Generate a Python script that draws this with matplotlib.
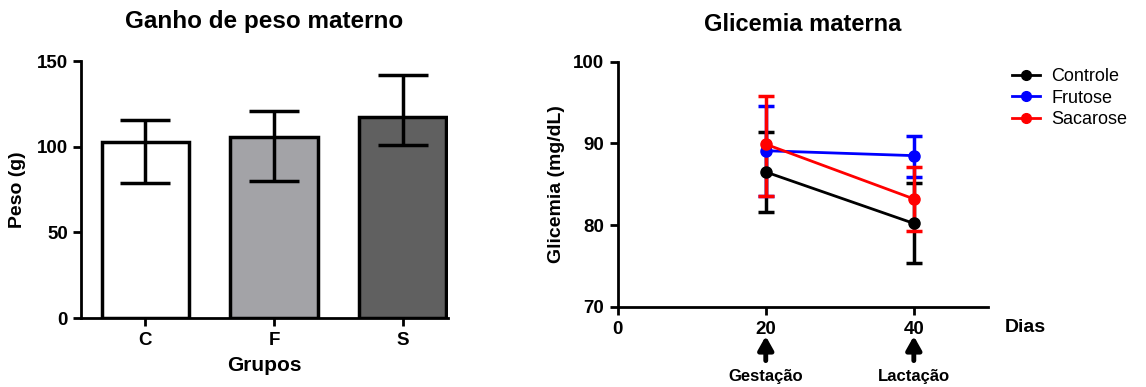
import matplotlib.pyplot as plt
from matplotlib.lines import Line2D
import numpy as np

plt.rcParams['font.family'] = ['Liberation Sans', 'DejaVu Sans']
plt.rcParams['font.weight'] = 'bold'

# ganho de peso
grupos = ['C', 'F', 'S']
peso = [103, 105.7, 117.5]
peso_sup = [115.6, 121, 142]
peso_inf = [79, 80.2, 101]
cores_barra = ['white', '#A3A3A7', '#606060']

# glicemia
dias = [20, 40]
series = ['Controle', 'Frutose', 'Sacarose']
glic = {
  'Controle': [86.5, 80.2],
  'Frutose': [89.1, 88.5],
  'Sacarose': [89.9, 83.2],
}
glic_sup = {
  'Controle': [91.4, 85.1],
  'Frutose': [94.6, 90.9],
  'Sacarose': [95.8, 87.1],
}
glic_inf = {
  'Controle': [81.6, 75.4],
  'Frutose': [83.5, 85.9],
  'Sacarose': [83.6, 79.3],
}
cores = {'Controle': 'black', 'Frutose': '#0000FF', 'Sacarose': '#FF0000'}
fases = ['Gestação', 'Lactação']

fig = plt.figure(figsize=(11.46, 3.87), dpi=100)

# ---- painel esquerdo
ax1 = fig.add_axes([0.0707, 0.178, 0.320, 0.664])
x = np.arange(len(grupos))
p = np.array(peso)
err = [p - np.array(peso_inf), np.array(peso_sup) - p]
ax1.bar(x, peso, width=0.68, color=cores_barra, edgecolor='black', linewidth=2.5, zorder=2)
ax1.errorbar(x, peso, yerr=err, fmt='none', ecolor='black', elinewidth=2.5,
             capsize=18, capthick=2.5, zorder=3)
ax1.set_xlim(-0.5, 2.35)
ax1.set_ylim(0, 150)
ax1.set_yticks([0, 50, 100, 150])
ax1.set_xticks(x)
ax1.set_xticklabels(grupos)
ax1.spines['top'].set_visible(False)
ax1.spines['right'].set_visible(False)
for s in ['left', 'bottom']:
  ax1.spines[s].set_linewidth(2)
ax1.tick_params(width=2, length=6, labelsize=13.5)
ax1.tick_params(axis='x', pad=4)
ax1.set_ylabel('Peso (g)', fontsize=14, fontweight='bold', labelpad=8)
ax1.set_xlabel('Grupos', fontsize=15, fontweight='bold', labelpad=5)
ax1.set_title('Ganho de peso materno', fontsize=17.5, fontweight='bold', pad=24)

# ---- painel direito
ax2 = fig.add_axes([0.539, 0.2075, 0.323, 0.633])
for nome in series:
  m = np.array(glic[nome])
  e = [m - np.array(glic_inf[nome]), np.array(glic_sup[nome]) - m]
  ax2.errorbar(dias, m, yerr=e, color=cores[nome], marker='o', markersize=8,
               linewidth=2, elinewidth=2.5, capsize=6, capthick=2.5, label=nome)
ax2.set_xlim(0, 50)
ax2.set_ylim(70, 100)
ax2.set_xticks([0, 20, 40])
ax2.set_yticks([70, 80, 90, 100])
ax2.spines['top'].set_visible(False)
ax2.spines['right'].set_visible(False)
for s in ['left', 'bottom']:
  ax2.spines[s].set_linewidth(2)
ax2.tick_params(width=2, length=6, labelsize=13.5)
ax2.tick_params(axis='x', pad=4)
ax2.set_ylabel('Glicemia (mg/dL)', fontsize=14, fontweight='bold', labelpad=6)
ax2.set_title('Glicemia materna', fontsize=17, fontweight='bold', pad=22)
ax2.text(1.045, -0.085, 'Dias', transform=ax2.transAxes, fontsize=14,
         fontweight='bold', ha='left', va='center')
for d, f in zip(dias, fases):
  ax2.annotate('', xy=(d, 66.4), xytext=(d, 63.4), annotation_clip=False,
               arrowprops=dict(arrowstyle='-|>,head_width=0.45,head_length=0.8',
                               color='black', lw=3.5, shrinkA=0, shrinkB=0))
  ax2.text(d, 62.4, f, fontsize=12, fontweight='bold', ha='center', va='top')

handles = [Line2D([], [], color=cores[n], marker='o', markersize=7, linewidth=2)
           for n in series]
ax2.legend(handles, series, loc='upper left', bbox_to_anchor=(1.02, 1.04),
           frameon=False, handlelength=1.6, labelspacing=0.25, handletextpad=0.6,
           prop={'weight': 'normal', 'size': 13})

fig.savefig('out.png', dpi=100)
